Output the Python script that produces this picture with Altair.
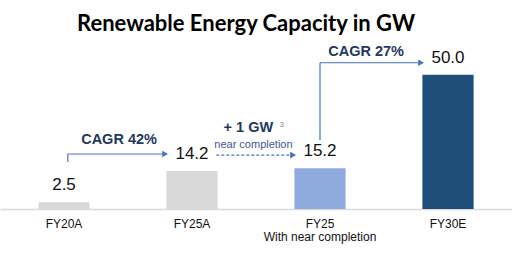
import altair as alt
import pandas as pd

# Bars
categories = ["FY20A", "FY25A", "FY25", "FY30E"]
values = [2.5, 14.2, 15.2, 50.0]
value_labels = ["2.5", "14.2", "15.2", "50.0"]
bar_colors = ["#D9D9D9", "#D9D9D9", "#8FAADC", "#1F4E79"]

# Arrow segments (x in category-slot units 0..4, y in GW)
seg_x = [0.53, 0.53, 1.69, 2.5, 2.5]
seg_x2 = [0.53, 1.27, 2.27, 2.5, 3.27]
seg_y = [17.5, 20.5, 20.1, 25.7, 54.5]
seg_y2 = [20.5, 20.5, 20.1, 54.5, 54.5]
seg_dash = ["solid", "solid", "dash", "solid", "solid"]

head_x = [1.29, 2.29, 3.29]
head_y = [20.5, 20.1, 54.5]

# Annotation texts
ann_text = ["CAGR 42%", "+ 1 GW", "CAGR 27%"]
ann_x = [0.93, 1.94, 2.86]
ann_y = [25.7, 30.2, 58.6]

sub_text = ["near completion"]
sub_x = [1.98]
sub_y = [23.9]

sup_text = ["3"]
sup_x = [2.2]
sup_y = [31.4]

bars_df = pd.DataFrame({"cat": categories, "val": values, "lab": value_labels, "col": bar_colors})
seg_df = pd.DataFrame({"x": seg_x, "x2": seg_x2, "y": seg_y, "y2": seg_y2, "d": seg_dash})
head_df = pd.DataFrame({"x": head_x, "y": head_y})
ann_df = pd.DataFrame({"t": ann_text, "x": ann_x, "y": ann_y})
sub_df = pd.DataFrame({"t": sub_text, "x": sub_x, "y": sub_y})
sup_df = pd.DataFrame({"t": sup_text, "x": sup_x, "y": sup_y})

yscale = alt.Scale(domain=[0, 60])
xband = alt.X(
    "cat:N",
    sort=categories,
    scale=alt.Scale(paddingInner=0.6, paddingOuter=0.3),
    axis=alt.Axis(
        title=None,
        labelAngle=0,
        ticks=False,
        domainColor="#D9D9D9",
        domainWidth=1.5,
        labelFont="Liberation Sans",
        labelFontSize=12,
        labelColor="#111111",
        labelPadding=9,
        labelLineHeight=13,
        labelExpr="datum.label == 'FY25' ? ['FY25', 'With near completion'] : datum.label",
    ),
)
Y = alt.Y("val:Q", scale=yscale, axis=None)

bars = alt.Chart(bars_df).mark_bar().encode(
    x=xband, y=Y, color=alt.Color("col:N", scale=None)
)
bar_labels = alt.Chart(bars_df).mark_text(
    font="Liberation Sans", fontSize=17, baseline="bottom", dy=-8, color="#111111"
).encode(x=xband, y=Y, text="lab:N")

base_layer = alt.layer(bars, bar_labels)

xq = alt.X("x:Q", scale=alt.Scale(domain=[0, 4], nice=False, zero=False), axis=None)
yq = alt.Y("y:Q", scale=yscale, axis=None)

segs = alt.Chart(seg_df).mark_rule(color="#4472C4", strokeWidth=1.2).encode(
    x=xq, x2="x2:Q", y=yq, y2="y2:Q",
    strokeDash=alt.StrokeDash("d:N", scale=alt.Scale(domain=["solid", "dash"], range=[[1, 0], [3, 2]]), legend=None),
)
heads = alt.Chart(head_df).mark_point(
    shape="triangle-right", filled=True, color="#4472C4", size=45, opacity=1
).encode(x=xq, y=yq)
anns = alt.Chart(ann_df).mark_text(
    font="Liberation Sans", fontSize=14.5, fontWeight="bold", color="#1F3864", baseline="middle"
).encode(x=xq, y=yq, text="t:N")
subs = alt.Chart(sub_df).mark_text(
    font="Liberation Sans", fontSize=11, color="#3B5998", baseline="middle"
).encode(x=xq, y=yq, text="t:N")
sups = alt.Chart(sup_df).mark_text(
    font="Liberation Sans", fontSize=8, color="#7F7F7F", baseline="middle"
).encode(x=xq, y=yq, text="t:N")

ann_layer = alt.layer(segs, heads, anns, subs, sups)

chart = alt.layer(base_layer, ann_layer).resolve_scale(x="independent").properties(
    width=512,
    height=161,
    padding={"left": 0, "right": 0, "top": 48, "bottom": 59},
    autosize=alt.AutoSizeParams(type="none"),
    title=alt.TitleParams(
        "Renewable Energy Capacity in GW",
        font="Lato",
        fontSize=22,
        fontWeight="bold",
        color="#000000",
        anchor="middle",
        dx=-10,
        offset=8,
    ),
).configure_view(stroke=None)

chart.save("out.html", embed_options={"renderer": "svg", "actions": False})
